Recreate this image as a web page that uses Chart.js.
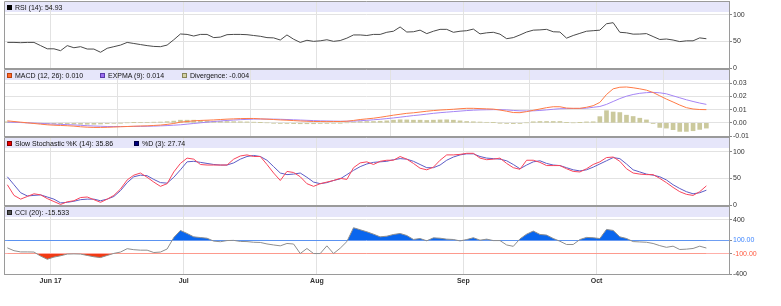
<!DOCTYPE html>
<html>
<head>
<meta charset="utf-8">
<script src="https://cdn.jsdelivr.net/npm/chart.js@4.4.0/dist/chart.umd.min.js"></script>
<style>
  html, body { margin:0; padding:0; background:#ffffff; }
  #wrap { position:relative; width:781px; height:306px; overflow:hidden; }
  #wrap canvas { position:absolute; left:0; top:0; }
  .lg { position:absolute; height:10px; line-height:10px; font-size:7px; font-family:"Liberation Sans", Arial, sans-serif; color:#111; white-space:nowrap; }
  .mk { position:absolute; width:3px; height:3px; border:1px solid #333; }
</style>
</head>
<body>
<div id="wrap">
  <canvas id="c0" width="781" height="306"></canvas>
  <canvas id="c1" width="781" height="306"></canvas>
  <canvas id="c2" width="781" height="306"></canvas>
  <canvas id="c3" width="781" height="306"></canvas>
</div>
<script>
// ---------------- DATA ----------------
const monthLabels = ['Jun 17', 'Jul', 'Aug', 'Sep', 'Oct'];
const monthStartIndex = [7, 27, 47, 69, 89];

const rsi = [48,48,47.5,48,48,42,36,36,32.5,42,
  38,40,35.6,35.5,29.5,37,40,43,48,46,
  44,42,40.5,40,43,53,63.8,63,60,63,
  63,57,58,62.5,63,63,62.5,61,59.5,57,
  56.5,52.5,62,54,48,52,50,51,53,50,
  51.5,56,62,62,61,63,63,67,69,77,
  67.5,68,71,64.5,69,72.5,72.5,67,69,70,
  73,64,66,67,63.5,55,57,62,67.5,71,
  71.5,72.5,68,67.5,56,61,65,69,70,71,
  83,85,67,66,63.5,63.7,64.5,59,53.5,54.4,
  52.5,49.5,51,51,56.5,54.93];

const macd = [0.0015,0.001,0.0005,0,-0.0005,-0.001,
  -0.0015,-0.0018,-0.002,-0.0022,-0.0025,
  -0.003,-0.0033,-0.0035,-0.0035,-0.0034,
  -0.0032,-0.003,-0.0028,-0.0026,-0.0024,
  -0.0023,-0.002,-0.0017,-0.0012,-0.0005,
  0.0005,0.001,0.0015,0.0018,0.002,
  0.0022,0.0025,0.0028,0.003,0.0032,
  0.0033,0.0033,0.003,0.0028,0.0025,
  0.0022,0.002,0.0017,0.0014,0.0012,
  0.001,0.001,0.0009,0.001,0.001,
  0.0012,0.0018,0.0025,0.003,0.0035,
  0.0042,0.005,0.0058,0.0065,0.0072,
  0.0076,0.0082,0.0088,0.0093,0.0097,
  0.0100,0.0103,0.0107,0.011,0.011,
  0.0108,0.0106,0.0104,0.0097,0.0088,
  0.0078,0.0077,0.0085,0.0095,0.0105,
  0.0115,0.0122,0.0122,0.0112,0.011,
  0.011,0.0118,0.013,0.0155,0.0215,
  0.0258,0.027,0.0272,0.0266,0.0258,
  0.0248,0.023,0.0205,0.018,0.0158,
  0.0135,0.0115,0.0105,0.0101,0.0100];

const expma = [0.0005,0.0004,0.0002,0,-0.0002,-0.0004,
  -0.0007,-0.001,-0.0012,-0.0014,-0.0016,
  -0.0019,-0.0022,-0.0024,-0.0026,-0.0028,
  -0.0028,-0.0028,-0.0028,-0.0027,-0.0027,
  -0.0026,-0.0025,-0.0023,-0.0021,-0.0018,
  -0.0015,-0.001,-0.0005,0,0.0005,
  0.001,0.0014,0.0018,0.0021,0.0024,
  0.0026,0.0028,0.0029,0.0028,0.0028,
  0.0027,0.0025,0.0023,0.0021,0.0019,
  0.0017,0.0015,0.0014,0.0013,0.0012,
  0.0012,0.0013,0.0016,0.0019,0.0023,
  0.0027,0.0032,0.0037,0.0043,0.0049,
  0.0055,0.006,0.0066,0.0072,0.0077,
  0.0081,0.0085,0.0089,0.0093,0.0096,
  0.0098,0.0099,0.01,0.01,0.0098,
  0.0094,0.0091,0.009,0.0091,0.0094,
  0.0098,0.0103,0.0107,0.0108,0.0109,
  0.0109,0.0111,0.0118,0.0124,0.014,
  0.0162,0.0184,0.0202,0.0215,0.0224,
  0.0229,0.0231,0.0228,0.022,0.0205,
  0.019,0.0175,0.0162,0.015,0.014];

const divergence = [0.0008,0.0006,0.0003,0,-0.0003,-0.0005,
  -0.0008,-0.0008,-0.0008,-0.0008,-0.0009,
  -0.0011,-0.0011,-0.0011,-0.0009,-0.0006,
  -0.0004,-0.0002,0,0.0001,0.0003,
  0.0003,0.0005,0.0006,0.0009,0.0013,
  0.002,0.002,0.002,0.0018,0.0015,
  0.0012,0.0011,0.001,0.0009,0.0008,
  0.0007,0.0005,0.0001,0,-0.0003,
  -0.0005,-0.0005,-0.0006,-0.0007,-0.0007,
  -0.0007,-0.0005,-0.0005,-0.0003,-0.0002,
  0,0.0006,0.0009,0.001,0.001,
  0.0012,0.0015,0.002,0.0023,0.0022,
  0.002,0.002,0.0018,0.002,0.0022,
  0.0023,0.002,0.0015,0.001,0.0008,
  0.0006,0.0004,0.0002,-0.0002,-0.0005,
  -0.0006,-0.0005,0,0.0008,0.001,
  0.001,0.001,0.001,0.0002,0,
  0.0001,0.0007,0.0008,0.0047,0.0092,
  0.0082,0.0078,0.0058,0.0048,0.0035,
  0.0022,-0.0005,-0.0035,-0.004,-0.0052,
  -0.0065,-0.0065,-0.006,-0.005,-0.004];

const stochK = [38,18,11,16,21,19,12,6.5,1,6,
  8,14,15,10,5,11,18,30,47,56,
  60,52,43,35,40,62,78,88,86,76,
  75,75,75,75,86,92,94,91,91,76,
  60,46,63,61,53,40,35,40,43,46,
  50,48,70,79,81,76,82,84,84,91,
  86,78,69,66,71,84,94,94,95,97,
  97,88,85,86,88,78,70,67,84,84,
  80,74,74,74,68,63,62,68,76,81,
  89,90,82,68,60,58,57,57,50,42,
  33,25,20,18,25,35.86];

const stochD = [53,38,23,17,18,19,15,11,4,5,
  7,10,11,11,8,11,16,27,42,53,
  56,55,48,42,41,52,66,81,82,80,
  78,76,75,75,79,86,91,93,91,84,
  72,60,57,58,60,52,43,40,42,46,
  49,57,65,72,77,80,81,82,85,87,
  86,82,76,70,70,75,84,90,94,96,
  96,91,88,87,86,83,76,68,75,81,
  83,78,75,74,70,66,64,66,71,77,
  83,89,87,77,66,62,58,56,53,47,
  38,31,25,21,23,27.74];

const cci = [-13,-55,-73,-73,-75,-135,-182,-150,-130,-105,
  -102,-105,-125,-145,-157,-125,-95,-75,-25,-40,
  -47,-47,-82,-75,-30,140,245,200,150,140,
  130,87,78,95,98,82,80,70,67,45,
  30,17,52,44,-97,-22,-97,-97,17,-97,
  -18,80,285,255,225,190,150,160,185,200,
  170,112,125,92,135,130,116,111,90,110,
  137,101,116,95,95,30,10,120,190,236,
  186,176,126,85,37,37,110,142,137,125,
  260,245,150,126,80,75,70,52,20,-5,
  12,-37,-32,-22,12,-15.533];

const rsiTicks = [0, 50, 100];
const macdTicks = [-0.01, 0, 0.01, 0.02, 0.03];
const stochTicks = [0, 50, 100];
const cciTicks = [-400, -200, -100, 0, 100, 200, 400];
const cciMarks = [100, -100];

// ---------------- RENDER ----------------
const FONT = '"Liberation Sans", Arial, Helvetica, sans-serif';
Chart.defaults.font.family = FONT;
Chart.defaults.font.size = 7;
const N = rsi.length;
const pts = arr => arr.map((v, i) => ({ x: i, y: v }));

const W = 781, H = 306, AXIS_W = 52, X_MIN = -0.5, X_MAX = 108.4;
const GRID = '#e2e2e2', EDGE = '#9a9a9a';

const framePlugin = {
  id: 'frame',
  beforeDraw(chart) {
    const { ctx, chartArea: a } = chart;
    ctx.save();
    ctx.fillStyle = '#e6e6fa';
    ctx.fillRect(a.left + 1, a.top + 1, a.right - a.left - 1, 10);
    ctx.restore();
  },
  afterDraw(chart) {
    const { ctx, chartArea: a } = chart;
    ctx.save();
    ctx.strokeStyle = EDGE;
    ctx.lineWidth = 1;
    ctx.beginPath();
    ctx.moveTo(a.left + 0.5, a.bottom);
    ctx.lineTo(a.left + 0.5, a.top + 0.5);
    ctx.lineTo(a.right, a.top + 0.5);
    ctx.stroke();
    ctx.restore();
  }
};

function makeChart(p) {
  const xH = p.last ? 14 : 0;
  const cfg = {
    type: 'line',
    data: { datasets: p.datasets },
    plugins: [framePlugin],
    options: {
      responsive: false,
      animation: false,
      events: [],
      layout: { padding: { left: 4, right: 0, top: p.top, bottom: H - p.bottom - xH } },
      plugins: { legend: { display: false }, tooltip: { enabled: false } },
      elements: { point: { radius: 0 }, line: { tension: 0 } },
      scales: {
        x: {
          type: 'linear', min: X_MIN, max: X_MAX, offset: false,
          afterBuildTicks: s => { s.ticks = monthStartIndex.map(i => ({ value: i - 0.5 })); },
          afterFit: s => { s.height = xH; s.paddingLeft = 0; s.paddingRight = 0; },
          grid: { color: GRID, drawTicks: false, lineWidth: 1 },
          border: { display: true, color: EDGE },
          ticks: {
            display: !!p.last, autoSkip: false, maxRotation: 0, minRotation: 0, padding: 3,
            color: '#333', font: { size: 7, weight: 'bold' },
            callback: (v, i) => monthLabels[i]
          }
        },
        y: {
          position: 'right', min: p.yMin, max: p.yMax,
          afterBuildTicks: s => { s.ticks = p.ticks.map(v => ({ value: v })); },
          afterFit: s => { s.width = AXIS_W; s.paddingTop = 0; s.paddingBottom = 0; },
          grid: { color: p.gridColor || GRID, tickColor: '#888', tickLength: 3, lineWidth: 1 },
          border: { display: true, color: EDGE },
          ticks: { padding: 1, color: p.tickColor || '#333', font: { size: 7 }, callback: p.fmt }
        }
      }
    }
  };
  return new Chart(document.getElementById(p.id), cfg);
}

const line = (data, color, extra) => Object.assign({
  type: 'line', data: pts(data), borderColor: color, borderWidth: 1, pointRadius: 0, fill: false
}, extra || {});

const panels = [
  { id: 'c0', top: 1, bottom: 68, yMin: 0, yMax: 125.7, ticks: rsiTicks, fmt: v => String(v),
    datasets: [line(rsi, '#4a4a4a')] },
  { id: 'c1', top: 69, bottom: 136, yMin: -0.01, yMax: 0.04085, ticks: macdTicks, fmt: v => v.toFixed(2),
    datasets: [
      line(macd, '#ff7a45', { order: 0 }),
      line(expma, '#a585f5', { order: 1 }),
      { type: 'bar', data: pts(divergence), backgroundColor: '#cbc99d', barThickness: 4, order: 3 }
    ] },
  { id: 'c2', top: 137, bottom: 205, yMin: 0, yMax: 127.6, ticks: stochTicks, fmt: v => String(v),
    datasets: [
      line(stochK, '#f8455c', { order: 0 }),
      line(stochD, '#5c5cc6', { order: 1 })
    ] },
  { id: 'c3', top: 206, bottom: 274, yMin: -400, yMax: 607, ticks: cciTicks, last: true,
    fmt: v => (v === cciMarks[0] || v === cciMarks[1]) ? v.toFixed(2) : (Math.abs(v) === 400 ? String(v) : ''),
    gridColor: c => c.tick && c.tick.value === 100 ? '#6f9ef2' : (c.tick && c.tick.value === -100 ? '#ffb0aa' : GRID),
    tickColor: c => c.tick && c.tick.value === 100 ? '#3f86ff' : (c.tick && c.tick.value === -100 ? '#ff5a40' : '#333'),
    datasets: [
      line(cci, '#8e8e8e', { order: 0 }),
      line(cci, 'rgba(0,0,0,0)', { order: 1, borderWidth: 0,
        fill: { target: { value: 100 }, above: '#0a66ee', below: 'rgba(0,0,0,0)' } }),
      line(cci, 'rgba(0,0,0,0)', { order: 2, borderWidth: 0,
        fill: { target: { value: -100 }, above: 'rgba(0,0,0,0)', below: '#f23a14' } })
    ] }
];

panels.forEach(makeChart);

// ---------------- LEGEND STRIPS ----------------
const legendDefs = [
  { top: panels[0].top, items: [
    { x: 7, fill: '#000000', edge: '#000000', text: `RSI (14): ${rsi[N - 1].toFixed(2)}` }] },
  { top: panels[1].top, items: [
    { x: 7, fill: '#ff6a2a', edge: '#b84010', text: `MACD (12, 26): ${macd[N - 1].toFixed(3)}` },
    { x: 100, fill: '#9a6cf0', edge: '#5a3aa8', text: `EXPMA (9): ${expma[N - 1].toFixed(3)}` },
    { x: 182, fill: '#d2d0a4', edge: '#86845a', text: `Divergence: ${divergence[N - 1].toFixed(3)}` }] },
  { top: panels[2].top, items: [
    { x: 7, fill: '#ee0000', edge: '#800000', text: `Slow Stochastic %K (14): ${stochK[N - 1].toFixed(2)}` },
    { x: 134, fill: '#000080', edge: '#000040', text: `%D (3): ${stochD[N - 1].toFixed(2)}` }] },
  { top: panels[3].top, items: [
    { x: 7, fill: '#555555', edge: '#222222', text: `CCI (20): ${cci[N - 1].toFixed(3)}` }] }
];
const wrap = document.getElementById('wrap');
legendDefs.forEach(d => {
  d.items.forEach(it => {
    const mk = document.createElement('div');
    mk.className = 'mk';
    mk.style.left = it.x + 'px';
    mk.style.top = (d.top + 4) + 'px';
    mk.style.background = it.fill;
    mk.style.borderColor = it.edge;
    wrap.appendChild(mk);
    const t = document.createElement('div');
    t.className = 'lg';
    t.style.left = (it.x + 8) + 'px';
    t.style.top = (d.top + 1.5) + 'px';
    t.textContent = it.text;
    wrap.appendChild(t);
  });
});
</script>
</body>
</html>
